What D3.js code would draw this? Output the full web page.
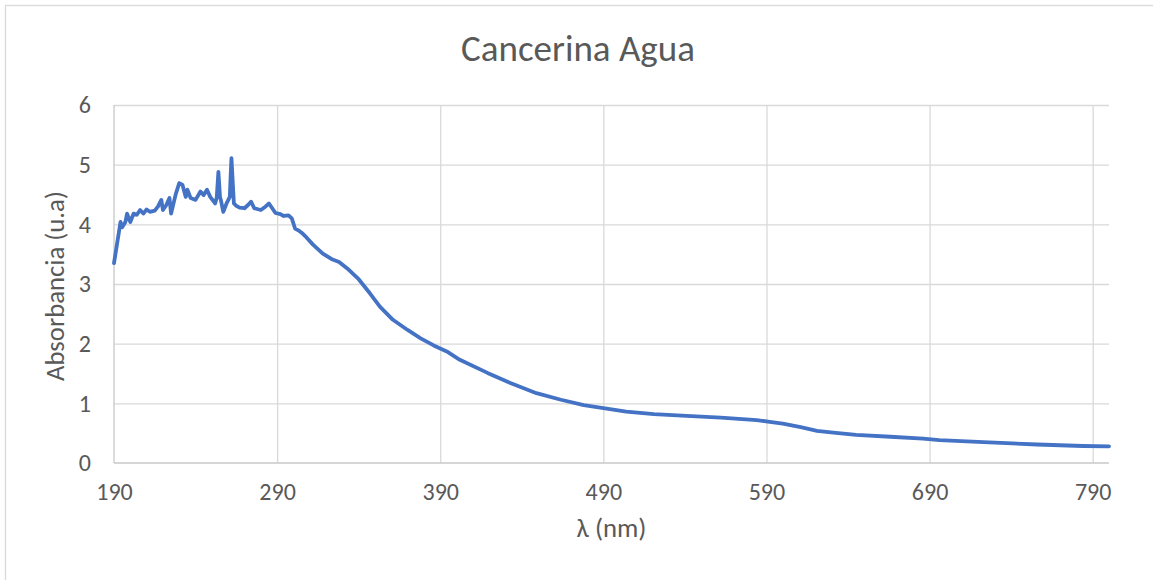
<!DOCTYPE html>
<html>
<head>
<meta charset="utf-8">
<script src="https://cdn.jsdelivr.net/npm/d3@7"></script>
<style>
  html, body { margin: 0; padding: 0; background: #fff; }
  svg text { font-family: Calibri, Carlito, "Open Sans", sans-serif; fill: #595959; }
</style>
</head>
<body>
<svg id="chart" width="1153" height="580"></svg>
<script>
// UV-Vis absorption spectrum of cancerina in water
const wavelength = [190, 194, 195, 197, 198, 200, 202, 204, 206, 208, 210, 212, 215, 217, 219, 220, 222, 224, 225, 227, 228, 230, 232, 234, 235, 237, 240, 243, 245, 247, 249, 252, 253, 254, 255, 255.5, 257, 259, 261, 261.5, 262, 263, 263.5, 265, 267, 270, 272, 274, 276, 280, 283, 285, 287, 289, 292, 294, 297, 299, 301, 303, 305, 308, 312, 318, 324, 328, 333, 340, 347, 353, 361, 370, 378, 386, 394, 402, 419, 433, 449, 464, 478, 490, 504, 521, 541, 562, 584, 592, 600, 611, 621, 631, 645, 666, 686, 696, 723, 756, 784, 800];
const absorbance = [3.35, 4.04, 3.95, 4.04, 4.18, 4.04, 4.18, 4.16, 4.24, 4.18, 4.25, 4.21, 4.23, 4.30, 4.41, 4.24, 4.32, 4.44, 4.18, 4.41, 4.52, 4.69, 4.66, 4.46, 4.58, 4.44, 4.41, 4.55, 4.49, 4.58, 4.46, 4.35, 4.45, 4.88, 4.45, 4.41, 4.21, 4.35, 4.46, 4.80, 5.11, 4.60, 4.35, 4.31, 4.28, 4.27, 4.32, 4.38, 4.27, 4.24, 4.30, 4.35, 4.27, 4.19, 4.17, 4.14, 4.15, 4.10, 3.93, 3.90, 3.86, 3.78, 3.66, 3.51, 3.41, 3.37, 3.26, 3.08, 2.84, 2.62, 2.40, 2.23, 2.09, 1.97, 1.87, 1.73, 1.51, 1.34, 1.17, 1.06, 0.97, 0.92, 0.86, 0.82, 0.79, 0.76, 0.72, 0.69, 0.66, 0.60, 0.54, 0.51, 0.47, 0.44, 0.41, 0.385, 0.35, 0.31, 0.285, 0.28];
const xTicks = [190, 290, 390, 490, 590, 690, 790];
const yTicks = [0, 1, 2, 3, 4, 5, 6];
const chartTitle = "Cancerina Agua";
const xTitle = "λ (nm)";
const yTitle = "Absorbancia (u.a)";

const svg = d3.select("#chart");
const plot = { left: 114, right: 1109, top: 105, bottom: 463 };
const FONT = 'Calibri, Carlito, "Open Sans", sans-serif';

// outer chart-area border
svg.append("rect")
  .attr("x", 5.5).attr("y", 5.5)
  .attr("width", 1160).attr("height", 590)
  .attr("fill", "#fff").attr("stroke", "#d9d9d9").attr("stroke-width", 1.3);

const x = d3.scaleLinear().domain([190, 800]).range([plot.left, plot.right]);
const y = d3.scaleLinear().domain([0, 6]).range([plot.bottom, plot.top]);

// horizontal gridlines
const yGrid = svg.append("g")
  .attr("transform", `translate(${plot.left},0)`)
  .call(d3.axisLeft(y).tickValues(yTicks.slice(1)).tickSize(-(plot.right - plot.left)).tickFormat(""));
yGrid.select(".domain").remove();
yGrid.selectAll("line").attr("stroke", "#d9d9d9").attr("stroke-width", 1.3);

// vertical gridlines
const xGrid = svg.append("g")
  .attr("transform", `translate(0,${plot.bottom})`)
  .call(d3.axisBottom(x).tickValues(xTicks.slice(1)).tickSize(-(plot.bottom - plot.top)).tickFormat(""));
xGrid.select(".domain").remove();
xGrid.selectAll("line").attr("stroke", "#d9d9d9").attr("stroke-width", 1.3);

// axis lines
svg.append("line")
  .attr("x1", x(190)).attr("x2", x(190)).attr("y1", plot.top).attr("y2", plot.bottom)
  .attr("stroke", "#c8c8c8").attr("stroke-width", 1.3);
svg.append("line")
  .attr("x1", plot.left).attr("x2", plot.right).attr("y1", plot.bottom).attr("y2", plot.bottom)
  .attr("stroke", "#c8c8c8").attr("stroke-width", 1.3);

// tick labels
const yAxis = svg.append("g")
  .attr("transform", `translate(${plot.left},0)`)
  .call(d3.axisLeft(y).tickValues(yTicks).tickSize(0).tickPadding(23).tickFormat(d3.format("d")));
yAxis.select(".domain").remove();
yAxis.selectAll("text").attr("font-size", 24).style("font-family", FONT).style("fill", "#595959");

const xAxis = svg.append("g")
  .attr("transform", `translate(0,${plot.bottom})`)
  .call(d3.axisBottom(x).tickValues(xTicks).tickSize(0).tickPadding(20).tickFormat(d3.format("d")));
xAxis.select(".domain").remove();
xAxis.selectAll("text").attr("font-size", 24).style("font-family", FONT).style("fill", "#595959");

// spectrum line
const line = d3.line()
  .x((d, i) => x(wavelength[i]))
  .y(d => y(d));
svg.append("path")
  .datum(absorbance)
  .attr("d", line)
  .attr("fill", "none")
  .attr("stroke", "#4472c4")
  .attr("stroke-width", 3.8)
  .attr("stroke-linejoin", "round")
  .attr("stroke-linecap", "round");

// titles
svg.append("text")
  .attr("x", 578).attr("y", 61)
  .attr("text-anchor", "middle")
  .attr("font-size", 37)
  .text(chartTitle);

svg.append("text")
  .attr("x", (plot.left + plot.right) / 2).attr("y", 537)
  .attr("text-anchor", "middle")
  .attr("font-size", 26.7)
  .text(xTitle);

svg.append("text")
  .attr("transform", `translate(64,${(plot.top + plot.bottom) / 2 + 2}) rotate(-90)`)
  .attr("text-anchor", "middle")
  .attr("font-size", 26.7)
  .text(yTitle);
</script>
</body>
</html>
